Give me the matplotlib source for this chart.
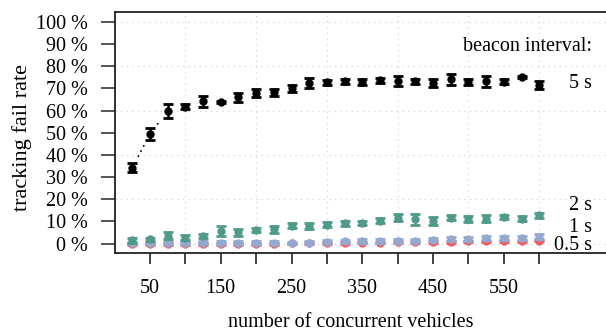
import numpy as np
import matplotlib
matplotlib.use("Agg")
import matplotlib.pyplot as plt

# ---- data ----
vehicles = [25, 50, 75, 100, 125, 150, 175, 200, 225, 250, 275, 300,
            325, 350, 375, 400, 425, 450, 475, 500, 525, 550, 575, 600]

fail_5s = [34.3, 49.4, 59.8, 61.8, 64.1, 64.0, 65.9, 67.9, 68.2, 70.0, 72.4, 72.7,
           73.1, 73.0, 73.6, 73.3, 73.1, 72.4, 74.0, 72.8, 73.2, 72.9, 75.1, 71.5]
err_5s = [2.2, 2.6, 3.2, 1.1, 2.6, 0.5, 2.2, 1.8, 1.7, 1.6, 2.2, 1.0,
          1.1, 1.4, 1.1, 2.1, 1.2, 1.6, 2.6, 1.3, 2.4, 1.1, 0.5, 1.6]

fail_2s = [1.5, 2.0, 3.6, 2.7, 3.4, 5.7, 5.1, 6.0, 6.5, 8.0, 8.0, 8.6,
           9.2, 9.5, 10.4, 11.7, 11.0, 10.4, 11.7, 11.0, 11.3, 11.9, 11.3, 12.7]
err_2s = [1.0, 0.7, 1.6, 1.2, 0.9, 2.1, 1.5, 0.9, 1.5, 1.1, 1.2, 1.0,
          1.1, 0.9, 1.2, 1.6, 2.4, 1.8, 1.0, 1.3, 1.6, 1.0, 1.1, 1.0]

fail_1s = [0.3, 0.3, 0.4, 0.4, 0.4, 0.4, 0.4, 0.4, 0.4, 0.3, 0.5, 0.8,
           1.0, 1.2, 1.2, 1.2, 1.4, 1.8, 2.0, 2.1, 2.4, 2.6, 2.4, 3.2]
err_1s = [0.6, 0.6, 0.6, 0.6, 0.6, 0.6, 0.6, 0.6, 0.6, 0.6, 0.7, 0.7,
          0.7, 0.8, 0.8, 0.8, 0.8, 0.8, 0.9, 0.9, 0.9, 0.9, 0.9, 1.0]

fail_05s = [0.0, 0.0, 0.0, 0.0, 0.0, 0.0, 0.0, 0.0, 0.0, 0.1, 0.2, 0.3,
            0.4, 0.5, 0.5, 0.6, 0.7, 0.8, 0.9, 1.0, 1.0, 1.1, 1.3, 1.4]
err_05s = [0.4] * 24

series = [
    ("0.5 s", fail_05s, err_05s, "#f25a5e", -0.6),
    ("1 s", fail_1s, err_1s, "#93a9d0", 7.2),
    ("2 s", fail_2s, err_2s, "#4f9a8b", 17.4),
    ("5 s", fail_5s, err_5s, "#000000", 72.0),
]

yticks = list(range(0, 101, 10))
ytick_labels = [f"{v} %" for v in yticks]
xticks = list(range(50, 601, 50))
xtick_labels = [str(v) if (v // 50) % 2 == 1 else "" for v in xticks]

plt.rcParams['font.family'] = ['Liberation Serif', 'DejaVu Serif']
FS = 14.5

fig = plt.figure(figsize=(6.06, 3.33), dpi=100)
ax = fig.add_axes([114.6 / 606, 80 / 333, (610 - 114.6) / 606, (253 - 12) / 333])
ax.set_xlim(0, 700)
ax.set_ylim(-4.2, 104.4)

# grid
for gy in range(0, 101, 20):
    ax.axhline(gy, color="#d4d4d4", lw=0.9, ls=(0, (1, 3.5)), zorder=0)
for gx in range(100, 601, 100):
    ax.axvline(gx, color="#d4d4d4", lw=0.9, ls=(0, (1, 3.5)), zorder=0)

fig.canvas.draw()
gap = 12.0  # px gap around points (R type="b")
z = 2
for name, vals, errs, col, ly in series:
    # dotted connecting segments with gaps near points
    pts = ax.transData.transform(np.column_stack([vehicles, vals]))
    inv = ax.transData.inverted()
    for i in range(len(pts) - 1):
        p, q = pts[i], pts[i + 1]
        d = q - p
        L = np.hypot(*d)
        if L > 2 * gap:
            u = d / L
            a = inv.transform(p + u * gap)
            b = inv.transform(q - u * gap)
            ax.plot([a[0], b[0]], [a[1], b[1]], color=col, lw=1.2,
                    ls=(0, (1, 2.5)), zorder=z)
    ax.errorbar(vehicles, vals, yerr=errs, fmt="o", color=col, ms=5,
                elinewidth=1.8, capsize=3.6, capthick=2.0, zorder=z + 1)
    ax.text(674, ly, name, ha="right", va="center", fontsize=FS)
    z += 2

ax.text(674, 89, "beacon interval:", ha="right", va="center", fontsize=FS)

ax.set_yticks(yticks)
ax.set_yticklabels(ytick_labels)
ax.set_xticks(xticks)
ax.set_xticklabels(xtick_labels)
ax.tick_params(axis="y", direction="out", length=10, width=1.4, color="#555555",
               pad=9, labelsize=FS)
ax.tick_params(axis="x", direction="out", length=8, width=1.2, color="#222222",
               pad=11, labelsize=FS)

for s in ["left", "top", "bottom"]:
    ax.spines[s].set_linewidth(1.3)
    ax.spines[s].set_color("#222222")
ax.spines["right"].set_visible(False)

ax.set_xlabel("number of concurrent vehicles", fontsize=FS)
ax.set_ylabel("tracking fail rate", fontsize=16)
ax.xaxis.set_label_coords(0.477, -0.25)
ax.yaxis.set_label_coords(-0.166, 0.481)

fig.savefig("out.png", dpi=100)
